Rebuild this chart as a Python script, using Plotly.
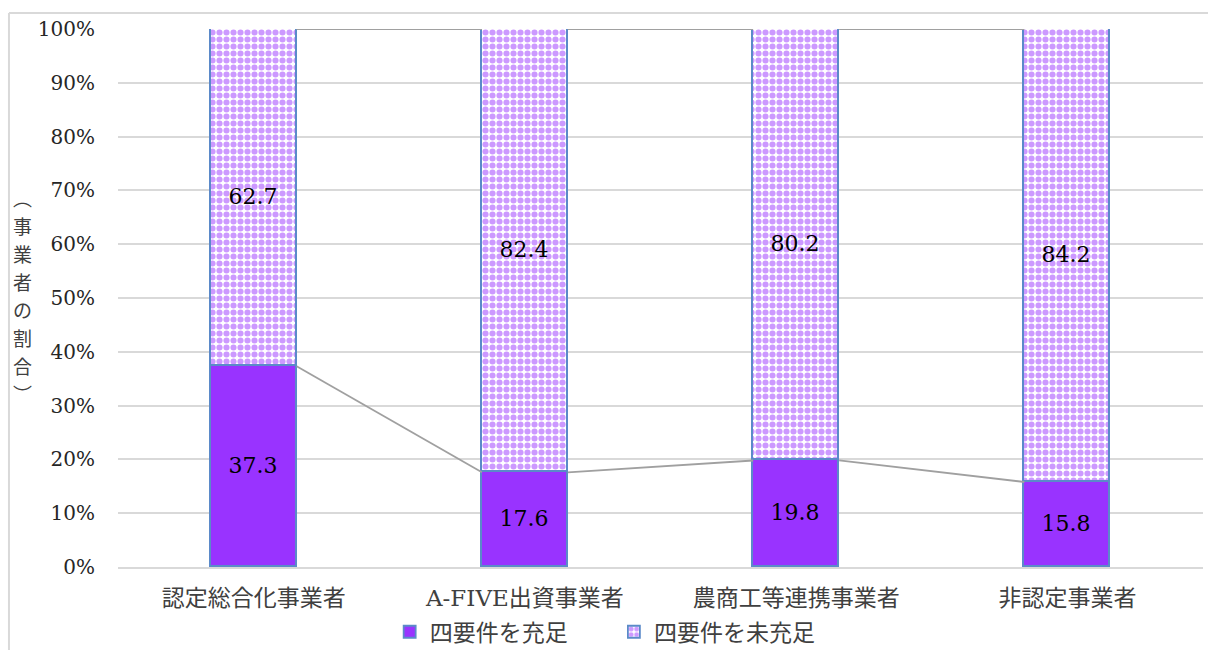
import plotly.graph_objects as go

categories = ["認定総合化事業者", "A-FIVE出資事業者", "農商工等連携事業者", "非認定事業者"]
satisfied = [37.3, 17.6, 19.8, 15.8]
unsatisfied = [62.7, 82.4, 80.2, 84.2]
series_names = ["四要件を充足", "四要件を未充足"]
y_ticks = [0, 10, 20, 30, 40, 50, 60, 70, 80, 90, 100]
y_tick_labels = [f"{v}%" for v in y_ticks]
y_title_chars = ["︵", "事", "業", "者", "の", "割", "合", "︶"]

PURPLE = "#9933ff"
EDGE = "#5b8ac9"
BAR_W = 0.317
SERIF = "DejaVu Serif, Noto Sans CJK JP, serif"
GOTHIC = "Noto Sans CJK JP, sans-serif"
PAD = "\u00a0" * 8

x = list(range(len(categories)))

fig = go.Figure()
fig.add_trace(go.Bar(
    x=x, y=satisfied, name=series_names[0] + PAD, width=BAR_W,
    marker=dict(color=PURPLE, line=dict(color=EDGE, width=1.8)),
    text=[f"{v:.1f}" for v in satisfied], textposition="inside",
    insidetextanchor="middle", textfont=dict(size=22, color="black", family=SERIF),
    textangle=0,
))
fig.add_trace(go.Bar(
    x=x, y=unsatisfied, name=series_names[1], width=BAR_W,
    marker=dict(color="white", line=dict(color=EDGE, width=1.8),
                pattern=dict(shape=".", fgcolor=PURPLE, bgcolor="white",
                             size=7, solidity=0.6)),
    text=[f"{v:.1f}" for v in unsatisfied], textposition="inside",
    insidetextanchor="middle", textfont=dict(size=22, color="black", family=SERIF),
    textangle=0,
))

# series lines connecting stacked tops
shapes = []
tops1 = satisfied
tops2 = [a + b for a, b in zip(satisfied, unsatisfied)]
for tops in (tops1, tops2):
    for i in range(len(x) - 1):
        shapes.append(dict(type="line", xref="x", yref="y",
                           x0=x[i] + BAR_W / 2, y0=tops[i],
                           x1=x[i + 1] - BAR_W / 2, y1=tops[i + 1],
                           line=dict(color="#a0a0a0", width=1.8), layer="above"))
# outer chart frame (top and left)
shapes.append(dict(type="line", xref="paper", yref="paper", x0=-0.1005, x1=1.01,
                   y0=1.0297, y1=1.0297, line=dict(color="#d9d9d9", width=2)))
shapes.append(dict(type="line", xref="paper", yref="paper", x0=-0.1005, x1=-0.1005,
                   y0=1.0297, y1=-0.2, line=dict(color="#d9d9d9", width=2)))

fig.update_layout(
    barmode="stack",
    width=1208, height=650,
    margin=dict(l=118, r=5, t=29, b=83, autoexpand=False),
    paper_bgcolor="white", plot_bgcolor="white",
    font=dict(family=SERIF, size=20, color="#262626"),
    showlegend=True,
    legend=dict(orientation="h", x=0.449, xanchor="center",
                yref="container", y=0.028, yanchor="middle",
                font=dict(size=23, family=GOTHIC, color="#404040"),
                itemwidth=30, traceorder="normal", tracegroupgap=0),
    shapes=shapes,
    bargap=0,
)
fig.update_xaxes(
    tickmode="array", tickvals=x, ticktext=categories, range=[-0.5, len(x) - 0.5],
    showgrid=False, showline=True, linecolor="#d9d9d9", linewidth=1.5,
    tickfont=dict(size=23, family=SERIF, color="#404040"), ticks="",
    ticklabelstandoff=10, automargin=False,
)
fig.update_yaxes(
    range=[0, 100], tickmode="array", tickvals=y_ticks, ticktext=y_tick_labels,
    showgrid=True, gridcolor="#d9d9d9", gridwidth=1.5, zeroline=False,
    showline=False, tickfont=dict(size=20, family=SERIF, color="#262626"),
    ticklabelstandoff=22, automargin=False,
)

# vertical y-axis title: one upright character per slot
plot_top, plot_h = 29, 538
center_y, step = 295, 28
n = len(y_title_chars)
for k, ch in enumerate(y_title_chars):
    py = center_y + (k - (n - 1) / 2) * step
    fig.add_annotation(
        xref="paper", yref="paper", x=(22 - 118) / 1085, y=1 - (py - plot_top) / plot_h,
        xanchor="center", yanchor="middle", text=ch, showarrow=False,
        font=dict(size=19, family=GOTHIC, color="#404040"),
    )

fig.write_html("out.html")
